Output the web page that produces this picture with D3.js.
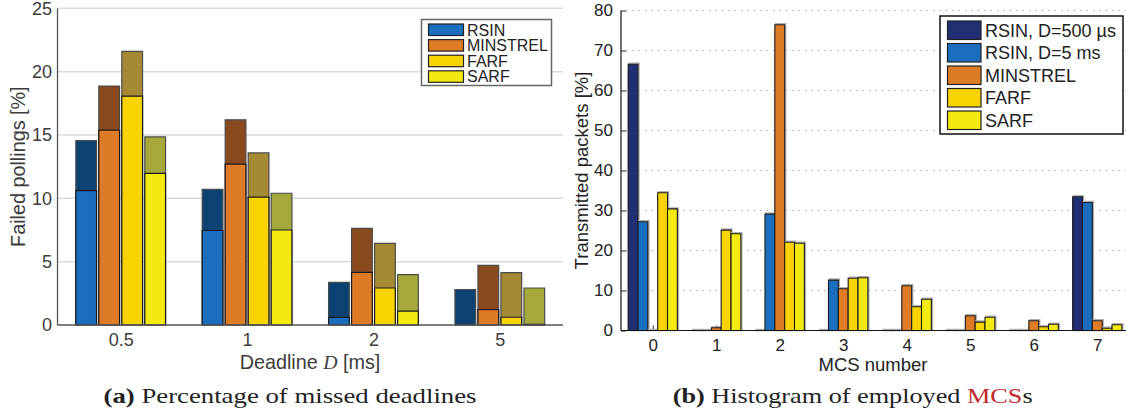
<!DOCTYPE html>
<html>
<head>
<meta charset="utf-8">
<title>RSIN figures</title>
<style>
body { margin: 0; background: #fff; }
svg { display: block; }
.sans { font-family: "Liberation Sans", Arial, Helvetica, sans-serif; }
.axisA path, .axisA line { display: none; }
.axisA text { font-family: "Liberation Sans", Arial, sans-serif; font-size: 18px; fill: #3c3c3c; }
.axisB path { display: none; }
.axisB line { stroke: #222; stroke-width: 1; }
.axisB text { font-family: "Liberation Sans", Arial, sans-serif; font-size: 17px; fill: #222; }
</style>
</head>
<body>
<script src="https://cdn.jsdelivr.net/npm/d3@7"></script>
<script>
// ---- (a) failed pollings ----
var deadlines = ["0.5", "1", "2", "5"];
var schemesA = ["RSIN", "MINSTREL", "FARF", "SARF"];
// full bar height (dark part) and light lower part, per scheme, one value per deadline
var rsinAll     = [14.55, 10.7, 3.37, 2.79];
var rsinLow     = [10.6, 7.46, 0.6, 0];
var minstrelAll = [18.86, 16.2, 7.63, 4.71];
var minstrelLow = [15.39, 12.7, 4.16, 1.21];
var farfAll     = [21.6, 13.58, 6.45, 4.13];
var farfLow     = [18.06, 10.1, 2.92, 0.61];
var sarfAll     = [14.85, 10.4, 3.97, 2.92];
var sarfLow     = [11.97, 7.5, 1.1, 0.05];
var ticksA = [0, 5, 10, 15, 20, 25];

// ---- (b) MCS histogram ----
var mcs = [0, 1, 2, 3, 4, 5, 6, 7];
var schemesB = ["RSIN, D=500 \u00b5s", "RSIN, D=5 ms", "MINSTREL", "FARF", "SARF"];
var rsin500  = [66.55, 0, 0, 0, 0, 0, 0, 33.45];
var rsin5    = [27.2, 0, 29.1, 12.6, 0, 0, 0, 32.0];
var minstrel = [0, 0.7, 76.45, 10.45, 11.2, 3.7, 2.45, 2.45];
var farf     = [34.45, 25.1, 22.05, 13.05, 5.95, 2.1, 0.95, 0.55];
var sarf     = [30.4, 24.2, 21.8, 13.2, 7.8, 3.3, 1.55, 1.45];
var ticksB = [0, 10, 20, 30, 40, 50, 60, 70, 80];

var lowColA  = ["#1a6ebd", "#de7b27", "#f8d300", "#f2ea10"];
var highColA = ["#0b4271", "#8a4a1f", "#a58a35", "#a5a83b"];
var colB = ["#222e72", "#1a6ebd", "#de7b27", "#f8d300", "#f2ea10"];

var svg = d3.select("body").append("svg")
    .attr("width", 1126).attr("height", 416);

function barPath(x0, x1, y0, y1) {
    return "M" + x0 + "," + y0 + "V" + y1 + "H" + x1 + "V" + y0 + "Z";
}

// ================= chart (a) =================
var xA = d3.scaleLinear().domain([-0.5, 3.5]).range([57.5, 563]);
var yA = d3.scaleLinear().domain([0, 25]).range([325, 8.3]);
var pitchA = 0.182, widthA = 0.164;

var gA = svg.append("g");
gA.selectAll("line.grid").data(ticksA.slice(1)).enter().append("line")
    .attr("x1", xA(-0.5)).attr("x2", xA(3.5))
    .attr("y1", function(d) { return yA(d); }).attr("y2", function(d) { return yA(d); })
    .attr("stroke", "#dcdcdc").attr("stroke-width", 1.5);

var allA = [rsinAll, minstrelAll, farfAll, sarfAll];
var lowA = [rsinLow, minstrelLow, farfLow, sarfLow];
schemesA.forEach(function(s, j) {
    var off = (j - 1.5) * pitchA;
    gA.selectAll("path.hi" + j).data(allA[j]).enter().append("path")
        .attr("d", function(d, i) {
            return barPath(xA(i + off - widthA / 2), xA(i + off + widthA / 2), yA(0), yA(d));
        })
        .attr("fill", highColA[j]).attr("stroke", "#4a4a4a").attr("stroke-width", 1.2);
    gA.selectAll("path.lo" + j).data(lowA[j]).enter().append("path")
        .attr("d", function(d, i) {
            return barPath(xA(i + off - widthA / 2), xA(i + off + widthA / 2), yA(0), yA(d));
        })
        .attr("fill", lowColA[j]).attr("stroke", "#1a1a1a").attr("stroke-width", 1.2);
});

gA.append("line").attr("x1", xA(-0.5)).attr("x2", xA(-0.5)).attr("y1", yA(25)).attr("y2", yA(0))
    .attr("stroke", "#555").attr("stroke-width", 1.3);
gA.append("line").attr("x1", xA(-0.5)).attr("x2", xA(3.5)).attr("y1", yA(0)).attr("y2", yA(0))
    .attr("stroke", "#555").attr("stroke-width", 1.3);

gA.append("g").attr("class", "axisA").attr("transform", "translate(" + xA(-0.5) + ",0)")
    .call(d3.axisLeft(yA).tickValues(ticksA).tickSize(0).tickPadding(5.5));
gA.append("g").attr("class", "axisA").attr("transform", "translate(0," + yA(0) + ")")
    .call(d3.axisBottom(xA).tickValues([0, 1, 2, 3]).tickSize(0).tickPadding(8.5)
        .tickFormat(function(d) { return deadlines[d]; }));

gA.append("text").attr("class", "sans")
    .attr("transform", "translate(25," + (yA(12.5)) + ") rotate(-90)")
    .attr("text-anchor", "middle").attr("font-size", 19.8).attr("fill", "#3c3c3c")
    .text("Failed pollings [%]");
var xl = gA.append("text").attr("class", "sans").attr("x", 310).attr("y", 368.5)
    .attr("text-anchor", "middle").attr("font-size", 19.8).attr("fill", "#3c3c3c");
xl.append("tspan").text("Deadline ");
xl.append("tspan").attr("font-family", "'Liberation Serif', serif").attr("font-style", "italic").text("D");
xl.append("tspan").text(" [ms]");

// legend (a)
var legA = gA.append("g");
legA.append("rect").attr("x", 421.5).attr("y", 19.5).attr("width", 130).attr("height", 66)
    .attr("fill", "#fff").attr("stroke", "#666").attr("stroke-width", 1.5);
schemesA.forEach(function(s, j) {
    legA.append("rect").attr("x", 428.5).attr("y", 24 + j * 15.6).attr("width", 35).attr("height", 11.5)
        .attr("fill", lowColA[j]).attr("stroke", "#222").attr("stroke-width", 1.2);
    legA.append("text").attr("class", "sans").attr("x", 467).attr("y", 35.5 + j * 15.6)
        .attr("font-size", 16).attr("fill", "#222").text(s);
});

// ================= chart (b) =================
var xB = d3.scaleLinear().domain([-0.5, 7.5]).range([621, 1129]);
var yB = d3.scaleLinear().domain([0, 80]).range([330.5, 10.5]);
var pitchB = 0.155;

var gB = svg.append("g");
gB.selectAll("line.grid").data(ticksB.slice(1)).enter().append("line")
    .attr("x1", xB(-0.5) + 5).attr("x2", 1126)
    .attr("y1", function(d) { return yB(d); }).attr("y2", function(d) { return yB(d); })
    .attr("stroke", "#999").attr("stroke-width", 1.1).attr("stroke-dasharray", "1.2,5.2");

gB.append("g").attr("class", "axisB").attr("transform", "translate(" + xB(-0.5) + ",0)")
    .call(d3.axisLeft(yB).tickValues(ticksB).tickSize(-5).tickPadding(8));
gB.append("g").attr("class", "axisB").attr("transform", "translate(0," + yB(0) + ")")
    .call(d3.axisBottom(xB).tickValues(mcs).tickSize(-5).tickPadding(8)
        .tickFormat(function(d) { return String(d); }));

var seriesB = [rsin500, rsin5, minstrel, farf, sarf];
schemesB.forEach(function(s, k) {
    var off = (k - 2) * pitchB;
    var g = gB.append("g");
    g.selectAll("path.sh").data(seriesB[k]).enter().append("path")
        .attr("d", function(d, i) {
            return barPath(xB(i + off - pitchB / 2) + 1, xB(i + off + pitchB / 2) + 1, yB(0), yB(d) - 1);
        })
        .attr("fill", "none").attr("stroke", "#b0b0b0").attr("stroke-width", 1.5);
    g.selectAll("path.bar").data(seriesB[k]).enter().append("path")
        .attr("d", function(d, i) {
            return barPath(xB(i + off - pitchB / 2), xB(i + off + pitchB / 2), yB(0), yB(d));
        })
        .attr("fill", colB[k]).attr("stroke", "#1a1a1a").attr("stroke-width", 1.1);
});

gB.append("line").attr("x1", xB(-0.5)).attr("x2", xB(-0.5)).attr("y1", yB(80)).attr("y2", yB(0))
    .attr("stroke", "#111").attr("stroke-width", 1.2);
gB.append("line").attr("x1", xB(-0.5)).attr("x2", 1126).attr("y1", yB(0)).attr("y2", yB(0))
    .attr("stroke", "#111").attr("stroke-width", 1.2);

gB.append("text").attr("class", "sans")
    .attr("transform", "translate(588," + yB(40) + ") rotate(-90)")
    .attr("text-anchor", "middle").attr("font-size", 18.5).attr("fill", "#222")
    .text("Transmitted packets [%]");
gB.append("text").attr("class", "sans").attr("x", 873).attr("y", 371)
    .attr("text-anchor", "middle").attr("font-size", 18.5).attr("fill", "#222")
    .text("MCS number");

// legend (b)
var legB = gB.append("g");
legB.append("rect").attr("x", 940).attr("y", 16).attr("width", 183).attr("height", 118)
    .attr("fill", "#fff").attr("stroke", "#111").attr("stroke-width", 1.5);
schemesB.forEach(function(s, k) {
    legB.append("rect").attr("x", 947.5).attr("y", 21 + k * 22.5).attr("width", 33.5).attr("height", 18.5)
        .attr("fill", colB[k]).attr("stroke", "#222").attr("stroke-width", 1.2);
    legB.append("text").attr("class", "sans").attr("x", 985).attr("y", 36.5 + k * 22.5)
        .attr("font-size", 18).attr("fill", "#222").text(s);
});

// ================= captions =================
var capA = svg.append("text").attr("x", 290).attr("y", 403).attr("text-anchor", "middle")
    .attr("font-family", "'Liberation Serif', 'DejaVu Serif', serif").attr("font-size", 21.5).attr("fill", "#222")
    .attr("textLength", 373).attr("lengthAdjust", "spacingAndGlyphs");
capA.append("tspan").attr("font-weight", "bold").text("(a)");
capA.append("tspan").text(" Percentage of missed deadlines");

var capB = svg.append("text").attr("x", 852.7).attr("y", 403).attr("text-anchor", "middle")
    .attr("font-family", "'Liberation Serif', 'DejaVu Serif', serif").attr("font-size", 21.5).attr("fill", "#222")
    .attr("textLength", 360).attr("lengthAdjust", "spacingAndGlyphs");
capB.append("tspan").attr("font-weight", "bold").text("(b)");
capB.append("tspan").text(" Histogram of employed ");
capB.append("tspan").attr("fill", "#c0282d").text("MCS");
capB.append("tspan").text("s");
</script>
</body>
</html>
